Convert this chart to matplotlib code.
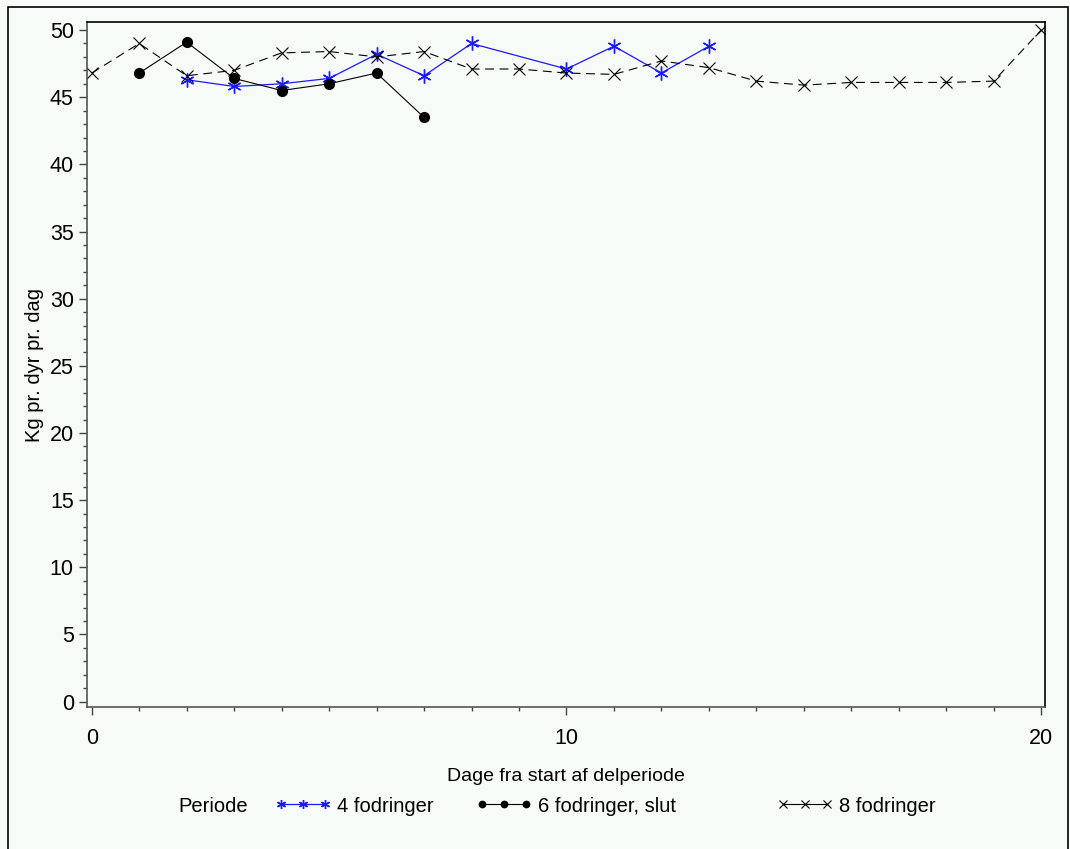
import matplotlib
matplotlib.use("Agg")
import matplotlib.pyplot as plt
from matplotlib.lines import Line2D
from matplotlib.patches import Rectangle
from matplotlib.ticker import MultipleLocator

plt.rcParams['font.family'] = ['Liberation Sans', 'DejaVu Sans']

# data
dage_4 = [2, 3, 4, 5, 6, 7, 8, 10, 11, 12, 13]
kg_4 = [46.3, 45.8, 46.0, 46.4, 48.2, 46.6, 49.0, 47.1, 48.8, 46.8, 48.8]

dage_6 = [1, 2, 3, 4, 5, 6, 7]
kg_6 = [46.8, 49.1, 46.4, 45.5, 46.0, 46.8, 43.5]

dage_8 = list(range(0, 21))
kg_8 = [46.8, 49.0, 46.6, 47.0, 48.3, 48.4, 48.0, 48.4, 47.1, 47.1, 46.8,
        46.7, 47.7, 47.2, 46.2, 45.9, 46.1, 46.1, 46.1, 46.2, 50.0]

bg = '#F7FBF8'
fig = plt.figure(figsize=(10.7, 8.49), dpi=100, facecolor=bg)
# outer frame
fig.patches.append(Rectangle((8 / 1070, -0.01), 1060 / 1070, (849 - 7) / 849 + 0.01,
                             transform=fig.transFigure, fill=False,
                             edgecolor='black', linewidth=1.2))

ax = fig.add_axes([87 / 1070, (849 - 707) / 849, (1045 - 87) / 1070, (707 - 22) / 849])
ax.set_facecolor(bg)

l4, = ax.plot(dage_4, kg_4, color='#1a1aff', linewidth=0.9, marker=(6, 2, 0),
              markersize=10, markeredgewidth=1.0)
l6, = ax.plot(dage_6, kg_6, color='black', linewidth=0.8, marker='o',
              markersize=7)
l8, = ax.plot(dage_8, kg_8, color='black', linewidth=0.8, dashes=(8, 5), marker='x',
              markersize=9, markeredgewidth=0.8)
l8_leg = Line2D([], [], color='black', linewidth=0.8, marker='x',
                markersize=9, markeredgewidth=0.8)

ax.set_xlim(-0.1, 20.08)
ax.set_ylim(-0.4, 50.6)
ax.xaxis.set_major_locator(MultipleLocator(10))
ax.xaxis.set_minor_locator(MultipleLocator(1))
ax.yaxis.set_major_locator(MultipleLocator(5))
ax.yaxis.set_minor_locator(MultipleLocator(1))
ax.tick_params(which='major', length=6, width=1, labelsize=15.5, color='#444444')
ax.tick_params(which='minor', length=3, width=1, color='#444444')
ax.tick_params(axis='x', pad=9)
for s in ax.spines.values():
    s.set_linewidth(1.2)
ax.spines['left'].set_color('#555555')
ax.spines['bottom'].set_color('#555555')

ax.set_xlabel('Dage fra start af delperiode', fontsize=14, labelpad=14)
ax.set_ylabel('Kg pr. dyr pr. dag', fontsize=14.5, labelpad=4)

# legend entries placed like the SAS legend row
leg_y = 1 - 806 / 849
for line, txt, x0 in [(l4, '4 fodringer', 275), (l6, '6 fodringer, slut', 476),
                      (l8_leg, '8 fodringer', 777)]:
    fig.legend([line], [txt], loc='center left', bbox_to_anchor=(x0 / 1070, leg_y),
               frameon=False, fontsize=14.5, handlelength=2.8, handletextpad=0.3,
               numpoints=3, markerscale=0.65, borderpad=0, borderaxespad=0)
fig.text(178 / 1070, leg_y, 'Periode', fontsize=14.5, va='center')

fig.savefig('out.png', dpi=100, facecolor=bg)
